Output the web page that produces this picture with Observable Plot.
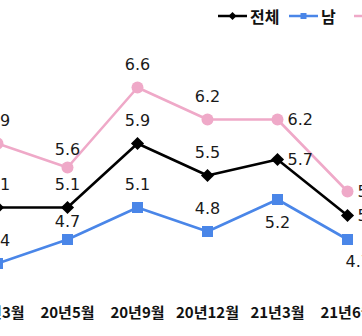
<!DOCTYPE html>
<html>
<head>
<meta charset="utf-8">
<script src="https://cdn.jsdelivr.net/npm/d3@7"></script>
<script src="https://cdn.jsdelivr.net/npm/@observablehq/plot@0.6"></script>
<style>
  html, body { margin: 0; padding: 0; background: #fff; }
  body { width: 362px; height: 336px; overflow: hidden; position: relative; font-family: "Noto Sans CJK KR", sans-serif; }
  #legend { position: relative; height: 30px; }
  #legend .item { position: absolute; top: 4px; display: flex; align-items: center; white-space: nowrap; font-size: 16px; font-weight: 700; color: #111; }
  #legend svg { display: block; }
</style>
</head>
<body>
<div id="legend"></div>
<div id="chart"></div>
<script>
// ---- data ----
const months = ["20년3월", "20년5월", "20년9월", "20년12월", "21년3월", "21년6월"];
const seriesNames = ["전체", "남", "여"];
const total  = [5.1, 5.1, 5.9, 5.5, 5.7, 5.0];
const male   = [4.4, 4.7, 5.1, 4.8, 5.2, 4.7];
const female = [5.9, 5.6, 6.6, 6.2, 6.2, 5.3];

// ---- label placement (style) ----
const placement = {
  "전체": ["top", "top", "top", "top", "right", "right"],
  "남":   ["top", "topNear", "top", "top", "bottom", "bottomRight"],
  "여":   ["top", "topNear", "top", "top", "right", "right"]
};
const colors = {"전체": "#000000", "남": "#4a86e8", "여": "#efa9c8"};
const symbols = {"전체": "diamond2", "남": "square", "여": "circle"};
const radii = {"전체": 5.9, "남": 6.2, "여": 6};

const valuesBy = {"전체": total, "남": male, "여": female};
const rows = [];
for (const s of ["여", "남", "전체"]) {
  months.forEach((m, i) => rows.push({month: m, series: s, value: valuesBy[s][i], pos: placement[s][i]}));
}

// ---- legend ----
const legend = document.getElementById("legend");
const legendX = {"전체": 216, "남": 287, "여": 352};
for (const s of seriesNames) {
  const item = document.createElement("div");
  item.className = "item";
  item.style.left = legendX[s] + "px";
  const sw = d3.create("svg").attr("width", 32).attr("height", 20);
  sw.append("line").attr("x1", 2).attr("x2", 31).attr("y1", 10).attr("y2", 10)
    .attr("stroke", colors[s]).attr("stroke-width", 2.5);
  const sym = {"전체": d3.symbolDiamond2, "남": d3.symbolSquare, "여": d3.symbolCircle}[s];
  sw.append("path").attr("transform", "translate(16.5,10)")
    .attr("d", d3.symbol(sym, s === "전체" ? 40 : 36)()).attr("fill", colors[s]);
  item.appendChild(sw.node());
  const t = document.createElement("span");
  t.textContent = s;
  t.style.marginLeft = "2px";
  item.appendChild(t);
  legend.appendChild(item);
}

// ---- chart ----
const labelFont = {fontSize: 16, fill: "#1a1a1a", fontFamily: "DejaVu Sans, sans-serif"};
const lab = (pos, opts) => Plot.text(rows.filter(d => d.pos === pos),
  {x: "month", y: "value", text: d => d.value.toFixed(1), ...labelFont, ...opts});
const chart = Plot.plot({
  width: 362,
  height: 306,
  marginBottom: 29,
  x: {type: "point", domain: months, range: [-4.5, 347.5], padding: 0, label: null},
  y: {domain: [4, 7], range: [265, 25], axis: null},
  color: {domain: seriesNames, range: seriesNames.map(s => colors[s])},
  style: {overflow: "visible", fontFamily: "Noto Sans CJK KR, sans-serif"},
  marks: [
    Plot.axisX({tickSize: 0, tickPadding: 0, fontSize: 15, fontWeight: 700, label: null, fill: "#111"}),
    Plot.line(rows, {x: "month", y: "value", z: "series", stroke: "series", strokeWidth: 2.6}),
    ...seriesNames.slice().reverse().map(s =>
      Plot.dot(rows.filter(d => d.series === s), {x: "month", y: "value", fill: colors[s], stroke: "none", symbol: symbols[s], r: radii[s]})
    ),
    lab("top", {dy: -23}),
    lab("topNear", {dy: -18}),
    lab("bottom", {dy: 23}),
    lab("bottomRight", {dy: 22, dx: -2, textAnchor: "start"}),
    lab("right", {dx: 10, dy: 0, textAnchor: "start"})
  ]
});
document.getElementById("chart").appendChild(chart);
</script>
</body>
</html>
